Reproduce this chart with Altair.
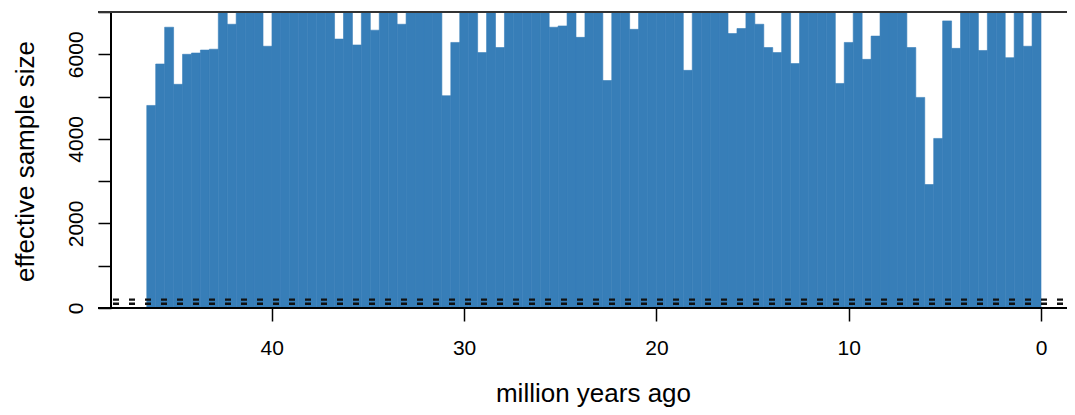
import altair as alt
import pandas as pd

# effective sample size per time bin, oldest bin first (bins run from ~46.5 Ma to 0)
ess = [
    4790, 5770, 6640, 5290, 6000, 6030, 6100, 6120, 7450, 6710,
    7820, 7600, 7390, 6190, 7700, 7510, 7880, 7620, 7330, 7940, 7410,
    6360, 7560, 6220, 7480, 6570, 7690, 7350, 6710, 7800, 7420, 7580,
    7260, 5020, 6280, 7510, 7730, 6040, 7390, 6160, 7640, 7470, 7900,
    7310, 7560, 6640, 6670, 7420, 6400, 7610, 7350, 5380, 7490, 7720,
    6590, 7380, 7650, 7540, 7290, 7810, 5620, 7460, 7570, 7330, 7690,
    6490, 6610, 7400, 6710, 6160, 6040, 7520, 5780, 7640, 7380, 7710,
    7450, 5310, 6280, 7560, 5880, 6430, 7320, 7470, 7600, 6160, 4980,
    2920, 4010, 6790, 6140, 7370, 7530, 6090, 7280, 7610, 5920, 7440,
    6190, 7500,
]
tree_age = 46.5          # million years ago, start of the oldest bin
n_bins = len(ess)
thresholds = [100, 200]  # dashed reference lines
x_ticks = [0, 10, 20, 30, 40]
y_ticks = [0, 1000, 2000, 3000, 4000, 5000, 6000, 7000]

bw = tree_age / n_bins
df = pd.DataFrame({
    "start": [tree_age - i * bw for i in range(n_bins)],
    "end": [tree_age - (i + 1) * bw for i in range(n_bins)],
    "ess": ess,
})
thr = pd.DataFrame({"t": thresholds})

W, H = 956, 296
FONT = "Liberation Sans"
BLUE = "#377EB8"

xscale = alt.Scale(domain=[-1.352, 48.36], reverse=True, nice=False, zero=False)
yscale = alt.Scale(domain=[0, 7000], nice=False)

bars = alt.Chart(df).mark_rect(color=BLUE, stroke=BLUE, strokeWidth=0.6, clip=True).encode(
    x=alt.X("start:Q", scale=xscale, axis=alt.Axis(
        values=x_ticks, format="d", domain=False, grid=False,
        tickSize=13, tickWidth=1.5, tickColor="black",
        labelFont=FONT, labelFontSize=21, labelColor="black", labelPadding=16,
        labelFlush=False,
        title="million years ago", titleFont=FONT, titleFontSize=26,
        titleFontWeight="normal", titleColor="black",
        titleX=482, titleY=93, titleAlign="center", titleBaseline="alphabetic")),
    x2="end:Q",
    y=alt.Y("ess:Q", scale=yscale, axis=alt.Axis(
        values=y_ticks, format="d", domain=False, grid=False,
        tickSize=13, tickWidth=1.5, tickColor="black",
        labelExpr="datum.value % 2000 == 0 ? datum.label : ''",
        labelAngle=270, labelAlign="center", labelBaseline="alphabetic",
        labelFont=FONT, labelFontSize=21, labelColor="black", labelPadding=16,
        labelFlush=False,
        title="effective sample size", titleFont=FONT, titleFontSize=26,
        titleFontWeight="normal", titleColor="black", titleAngle=270,
        titleX=-78, titleY=149, titleAlign="center", titleBaseline="alphabetic")),
    y2=alt.datum(0),
)

dashed = alt.Chart(thr).mark_rule(color="#111111", strokeWidth=2.3, strokeDash=[6, 10]).encode(
    y=alt.Y("t:Q", scale=yscale),
    x=alt.value(2), x2=alt.value(W),
)

left_line = alt.Chart(thr).mark_rule(color="black", strokeWidth=2).encode(
    x=alt.value(0), y=alt.value(0), y2=alt.value(H))
top_line = alt.Chart(thr).mark_rule(color="#333333", strokeWidth=2).encode(
    x=alt.value(-13), x2=alt.value(W), y=alt.value(0))
bottom_line = alt.Chart(thr).mark_rule(color="black", strokeWidth=2).encode(
    x=alt.value(-13), x2=alt.value(W), y=alt.value(H))

chart = alt.layer(bars, dashed, left_line, top_line, bottom_line).properties(
    width=W, height=H,
    autosize=alt.AutoSizeParams(type="none"),
    padding={"left": 103, "top": 4, "right": 0, "bottom": 99},
).configure_view(stroke=None).configure(background="white")

chart.save("out.html", embed_options={"renderer": "svg", "actions": False})
